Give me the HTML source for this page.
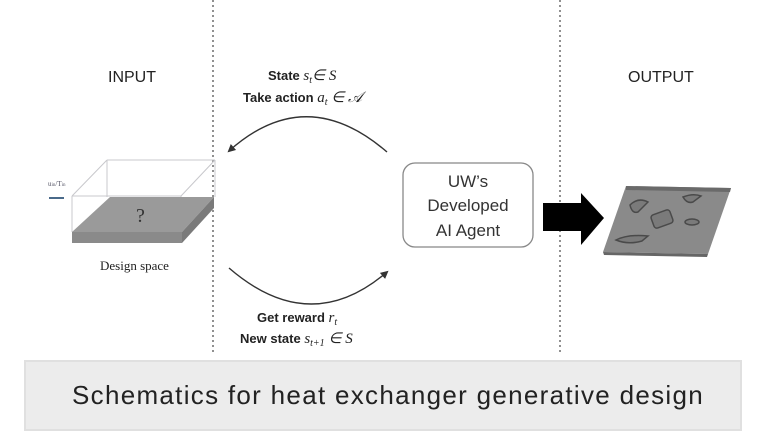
<!DOCTYPE html>
<html><head><meta charset="utf-8"><style>
html,body{margin:0;padding:0;background:#fff;}
body{width:766px;height:436px;position:relative;overflow:hidden;font-family:"Liberation Sans",sans-serif;}
svg{position:absolute;left:0;top:0;}
.cap{position:absolute;left:24px;top:360px;background:#ececec;border:2px solid #e0e0e0;font-size:26px;color:#222;line-height:67px;padding-left:46px;box-sizing:border-box;width:718px;height:71px;letter-spacing:1.3px;white-space:nowrap;}
</style></head><body>
<svg width="766" height="436" viewBox="0 0 766 436">
<defs>
<marker id="ah" markerWidth="8" markerHeight="8" refX="6" refY="4" orient="auto" markerUnits="userSpaceOnUse"><path d="M0,0 L8,4 L0,8 Z" fill="#333"/></marker>
</defs>
<line x1="213" y1="0" x2="213" y2="352" stroke="#555" stroke-width="1.3" stroke-dasharray="2,3"/>
<line x1="560" y1="0" x2="560" y2="352" stroke="#555" stroke-width="1.3" stroke-dasharray="2,3"/>
<text x="108" y="82" font-size="16" fill="#222">INPUT</text>
<text x="628" y="82" font-size="16" fill="#222">OUTPUT</text>
<g stroke="#c8c8cc" stroke-width="1" fill="none">
<line x1="107" y1="160" x2="215" y2="160"/>
<line x1="107" y1="160" x2="72" y2="196"/>
<line x1="215" y1="160" x2="181" y2="196"/>
<line x1="72" y1="196" x2="181" y2="196"/>
<line x1="107" y1="160" x2="107" y2="197"/>
<line x1="215" y1="160" x2="215" y2="197"/>
<line x1="72" y1="196" x2="72" y2="232"/>
<line x1="181" y1="196" x2="181" y2="232"/>
</g>
<polygon points="110,197 214,197 182,232 72,232" fill="#9a9a9a"/>
<polygon points="72,232 182,232 182,243 72,243" fill="#8a8a8a"/>
<polygon points="182,232 214,197 214,208 182,243" fill="#7a7a7a"/>
<text x="136" y="222" font-family="Liberation Serif,serif" font-size="20" fill="#333">?</text>
<line x1="49" y1="198" x2="64" y2="198" stroke="#4a6a8a" stroke-width="2"/>
<text x="48" y="186" font-family="Liberation Serif,serif" font-size="7" fill="#556">u<tspan font-size="5">in</tspan>/T<tspan font-size="5">in</tspan></text>
<text x="100" y="270" font-family="Liberation Serif,serif" font-size="13" fill="#222">Design space</text>
<path d="M387,152 Q306,82 229,151" fill="none" stroke="#333" stroke-width="1.4" marker-end="url(#ah)"/>
<path d="M229,268 Q310,338 387,272" fill="none" stroke="#333" stroke-width="1.4" marker-end="url(#ah)"/>
<g font-size="13" font-weight="bold" fill="#222">
<text x="268" y="80">State <tspan font-family="Liberation Serif,serif" font-style="italic" font-weight="normal" font-size="15">s<tspan font-size="10" dy="3">t</tspan><tspan dy="-3">∈ S</tspan></tspan></text>
<text x="243" y="102">Take action <tspan font-family="Liberation Serif,serif" font-style="italic" font-weight="normal" font-size="15">a<tspan font-size="10" dy="3">t</tspan><tspan dy="-3"> ∈ 𝒜</tspan></tspan></text>
<text x="257" y="322">Get reward <tspan font-family="Liberation Serif,serif" font-style="italic" font-weight="normal" font-size="15">r<tspan font-size="10" dy="3">t</tspan></tspan></text>
<text x="240" y="343">New state <tspan font-family="Liberation Serif,serif" font-style="italic" font-weight="normal" font-size="15">s<tspan font-size="10" dy="3">t+1</tspan><tspan dy="-3"> ∈ S</tspan></tspan></text>
</g>
<rect x="403" y="163" width="130" height="84" rx="12" fill="#fff" stroke="#888" stroke-width="1.3"/>
<g font-size="17" fill="#333" text-anchor="middle">
<text x="468" y="187">UW’s</text>
<text x="468" y="211">Developed</text>
<text x="468" y="236">AI Agent</text>
</g>
<polygon points="543,203 581,203 581,193 604,218 581,245 581,231 543,231" fill="#000"/>
<polygon points="626,186 731,188 708,254 603,252" fill="#8a8a8a"/>
<polygon points="626,186 731,188 730,192 626,190" fill="#6a6a6a"/>
<polygon points="603,252 708,254 707,257 604,255" fill="#666"/>
<g fill="#7a7a7a" stroke="#4a4a4a" stroke-width="1.5">
<path d="M630,205 q8,-8 18,-3 l-10,10 q-6,2 -8,-7z"/>
<path d="M683,197 q10,-4 18,-1 l-8,6 q-6,2 -10,-5z"/>
<rect x="652" y="212" width="20" height="14" rx="3" transform="rotate(-20 662 219)"/>
<ellipse cx="692" cy="222" rx="7" ry="3"/>
<path d="M616,240 q12,-6 32,-4 l-6,5 q-14,4 -26,-1z"/>
</g>
</svg>
<div class="cap">Schematics for heat exchanger generative design</div>
</body></html>
